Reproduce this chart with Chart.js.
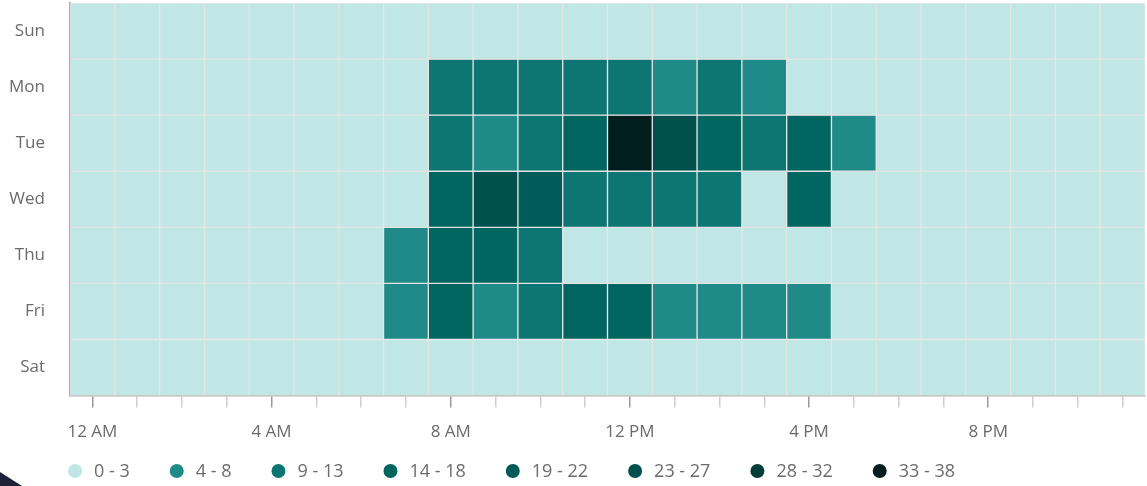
<!DOCTYPE html>
<html>
<head>
<meta charset="utf-8">
<script src="https://cdn.jsdelivr.net/npm/chart.js@4.4.1/dist/chart.umd.min.js"></script>
<style>
  html, body { margin: 0; padding: 0; background: #fff; }
  .wrap { position: relative; width: 1147px; height: 486px; }
  .corner {
    position: absolute; left: 0; bottom: 0; width: 22px; height: 14px;
    background: #1e2238; clip-path: polygon(0 0, 100% 100%, 0 100%);
  }
</style>
</head>
<body>
<div class="wrap">
  <canvas id="heat"></canvas>
  <div class="corner"></div>
</div>
<script>
const days = ["Sun", "Mon", "Tue", "Wed", "Thu", "Fri", "Sat"];

const hours = [
  "12 AM", "1 AM", "2 AM", "3 AM", "4 AM", "5 AM", "6 AM", "7 AM",
  "8 AM", "9 AM", "10 AM", "11 AM", "12 PM", "1 PM", "2 PM", "3 PM",
  "4 PM", "5 PM", "6 PM", "7 PM", "8 PM", "9 PM", "10 PM", "11 PM",
];

// values per hour, one array per day
const sun = [1, 0, 0, 0, 0, 0, 1, 1, 2, 2, 1, 2, 1, 2, 1, 1, 2, 1, 1, 1, 0, 1, 1, 0];
const mon = [0, 0, 0, 0, 0, 0, 1, 2, 11, 12, 10, 11, 12, 7, 11, 6, 3, 2, 1, 1, 1, 0, 0, 0];
const tue = [0, 0, 0, 0, 0, 0, 1, 3, 12, 8, 11, 16, 36, 25, 17, 12, 16, 6, 3, 2, 1, 1, 0, 0];
const wed = [0, 0, 0, 0, 0, 0, 1, 3, 16, 26, 21, 12, 11, 12, 13, 3, 17, 2, 1, 1, 0, 0, 0, 0];
const thu = [0, 0, 0, 0, 0, 0, 2, 6, 17, 15, 10, 2, 3, 3, 2, 3, 2, 1, 1, 0, 0, 0, 0, 0];
const fri = [0, 0, 0, 0, 0, 0, 1, 7, 16, 8, 11, 15, 15, 6, 5, 7, 6, 2, 1, 1, 0, 0, 0, 0];
const sat = [0, 0, 0, 0, 0, 0, 0, 1, 2, 1, 1, 1, 2, 2, 1, 1, 1, 1, 0, 0, 0, 0, 0, 0];

const binLabels = ["0 - 3", "4 - 8", "9 - 13", "14 - 18", "19 - 22", "23 - 27", "28 - 32", "33 - 38"];
const binMax = [3, 8, 13, 18, 22, 27, 32, 38];
const binColors = ["#c0e6e5", "#1f8a87", "#0d7673", "#00665f", "#005c58", "#00514e", "#003c39", "#001e1e"];

const dayValues = [sun, mon, tue, wed, thu, fri, sat];

function colorFor(v) {
  for (let i = 0; i < binMax.length; i++) {
    if (v <= binMax[i]) return binColors[i];
  }
  return binColors[binColors.length - 1];
}

const FONT = "'Open Sans', 'Noto Sans', sans-serif";
const TEXT = "#6b6b6b";

// legend drawn under the axis, circles + ranges
const binLegend = {
  id: "binLegend",
  afterDraw(chart) {
    const ctx = chart.ctx;
    ctx.save();
    ctx.font = "18px " + FONT;
    ctx.textBaseline = "middle";
    let x = 75;
    const y = 471;
    binLabels.forEach((lbl, i) => {
      ctx.beginPath();
      ctx.arc(x, y, 7, 0, Math.PI * 2);
      ctx.fillStyle = binColors[i];
      ctx.fill();
      ctx.fillStyle = TEXT;
      ctx.fillText(lbl, x + 19, y + 1);
      x += 19 + ctx.measureText(lbl).width + 47;
    });
    ctx.restore();
  },
};

const datasets = days.map((d, i) => ({
  label: d,
  data: hours.map(() => [i, i + 1]),
  backgroundColor: dayValues[i].map(colorFor),
  borderColor: "rgba(228,228,228,0.95)",
  borderWidth: 1,
  borderSkipped: false,
  grouped: false,
  categoryPercentage: 1,
  barPercentage: 1,
}));

const config = {
  type: "bar",
  data: { labels: hours, datasets: datasets },
  options: {
    responsive: true,
    maintainAspectRatio: false,
    animation: false,
    layout: { padding: { top: 3, right: 2, left: 0, bottom: 30 } },

    scales: {
      x: {
        grid: {
          display: true,
          drawOnChartArea: false,
          offset: false,
          tickLength: 12,
          lineWidth: 1.5,
          color: (ctx) => (ctx.index % 4 === 0 ? "#999" : "#d0d0d0"),
        },
        border: { display: true, color: "#b0b0b0", width: 1.5 },
        ticks: {
          autoSkip: false,
          maxRotation: 0,
          padding: 14,
          color: TEXT,
          font: { family: FONT, size: 17 },
          callback: (v, i) => (i % 4 === 0 ? hours[i] : ""),
        },
      },
      y: {
        type: "linear",
        min: 0,
        max: 7,
        reverse: true,
        grid: { display: false, drawTicks: false },
        border: { display: true, color: "#a8a8a8", width: 2 },
        afterBuildTicks: (axis) => {
          axis.ticks = days.map((d, i) => ({ value: i + 0.5 }));
        },
        afterFit: (axis) => {
          axis.width = 70;
          axis.paddingTop = 0;
          axis.paddingBottom = 0;
        },
        ticks: {
          padding: 25,
          color: TEXT,
          font: { family: FONT, size: 17 },
          callback: (v) => days[Math.floor(v)],
        },
      },
    },

    plugins: {
      legend: { display: false },
      tooltip: { enabled: false },
    },
  },
  plugins: [binLegend],
};

const heatChart = new Chart(document.getElementById("heat"), config);
</script>
</body>
</html>
